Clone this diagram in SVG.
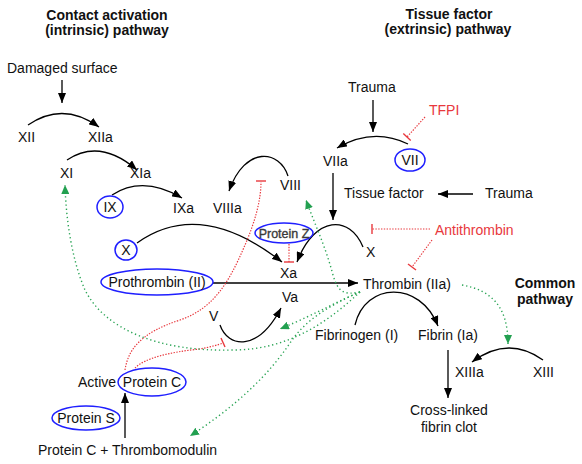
<svg xmlns="http://www.w3.org/2000/svg" width="582" height="464" viewBox="0 0 582 464">
<style>
text{font-family:"Liberation Sans",Arial,sans-serif;font-size:14px;fill:#111}
.t{font-weight:bold;text-anchor:middle}
.m{text-anchor:middle}
.r{fill:#e8383d}
.pz{font-size:12.5px;fill:#3a3a3a;stroke:#3a3a3a;stroke-width:0.35}
.e{fill:none;stroke:#1f1fff;stroke-width:1.5}
.k{fill:none;stroke:#000;stroke-width:1.3}
.ka{fill:none;stroke:#000;stroke-width:1.3;marker-end:url(#ah)}
.rd{fill:none;stroke:#e8383d;stroke-width:1.2;stroke-dasharray:1.4 1.4}
.rb{fill:none;stroke:#e8383d;stroke-width:1.4}
.gd{fill:none;stroke:#2aa455;stroke-width:1.4;stroke-dasharray:1.3 2.8;marker-end:url(#ga)}
</style>
<defs>
<marker id="ah" viewBox="0 0 10 8" refX="10" refY="4" markerWidth="10" markerHeight="8" markerUnits="userSpaceOnUse" orient="auto"><path d="M0,0 L10,4 L0,8 z" fill="#000"/></marker>
<marker id="ga" viewBox="0 0 9 8" refX="9" refY="4" markerWidth="9" markerHeight="8" markerUnits="userSpaceOnUse" orient="auto"><path d="M0,0 L9,4 L0,8 z" fill="#22a050"/></marker>
</defs>
<rect width="582" height="464" fill="#fff"/>

<g id="titles">
<text class="t" x="107" y="20">Contact activation</text>
<text class="t" x="107" y="35">(intrinsic) pathway</text>
<text class="t" x="449" y="19">Tissue factor</text>
<text class="t" x="448" y="34">(extrinsic) pathway</text>
<text class="t" x="545" y="288">Common</text>
<text class="t" x="545" y="304">pathway</text>
</g>

<g id="connectors">
<path class="ka" d="M62,80 V103"/>
<path class="ka" d="M28,125 Q63,101 99,127"/>
<path class="ka" d="M67,160 Q100,138 137,170"/>
<path class="ka" d="M112,195 Q143,175 182,198"/>
<path class="ka" d="M137,243 Q200,198 282,262"/>
<path class="ka" d="M363,247 C350,215 315,215 297,262"/>
<path class="ka" d="M288,176 C280,150 245,145 229,191"/>
<path class="ka" d="M213,283 H358"/>
<path class="ka" d="M373,100 V132"/>
<path class="ka" d="M408,144 Q373,127 337,148"/>
<path class="ka" d="M333,173 V220"/>
<path class="ka" d="M473,194 H438"/>
<path class="ka" d="M220,325 C228,348 258,352 281,308"/>
<path class="ka" d="M355,325 C365,282 420,280 438,326"/>
<path class="ka" d="M448,350 V398"/>
<path class="ka" d="M543,360 Q508,335 472,362"/>
<path class="ka" d="M125,438 V393"/>

<path class="rd" d="M425,117 L407,137"/><path class="rb" d="M403.3,133.6 L410.7,140.4"/>
<path class="rd" d="M430,229 H372"/><path class="rb" d="M372,224 V234"/>
<path class="rd" d="M432,240 L412,267"/><path class="rb" d="M408,264 L416,270"/>
<path class="rd" d="M289,244 V262"/><path class="rb" d="M284,262 H294"/>
<path class="rd" d="M125,370 C128,350 140,333 180,320 C215,308 230,280 245,245 C255,222 261,200 261,182"/><path class="rb" d="M256,181 H266"/>
<path class="rd" d="M135,368 C145,358 170,352 200,349 C210,347 218,345 223,343"/><path class="rb" d="M221,338 L225,347"/>

<path class="gd" d="M360,292 C330,320 290,350 233,350 C160,352 105,330 85,290 C72,260 66,220 65,185"/>
<path class="gd" d="M360,292 C345,295 338,293 333,275 C325,245 315,225 306,200"/>
<path class="gd" d="M360,292 C340,300 320,312 280,329"/>
<path class="gd" d="M360,292 C330,305 305,320 290,343 C265,380 230,410 190,436"/>
<path class="gd" d="M462,285 C490,290 508,305 508,344"/>
</g>

<g id="damaged-surface"><text x="7" y="73">Damaged surface</text></g>
<g id="XII"><text x="18" y="142">XII</text></g>
<g id="XIIa"><text x="88" y="142">XIIa</text></g>
<g id="XI"><text x="60" y="178">XI</text></g>
<g id="XIa"><text x="130" y="178">XIa</text></g>
<g id="IX"><ellipse class="e" cx="110" cy="207" rx="13" ry="11"/><text class="m" x="110" y="212">IX</text></g>
<g id="IXa"><text x="173" y="213">IXa</text></g>
<g id="X-left"><ellipse class="e" cx="126" cy="250" rx="11" ry="10"/><text class="m" x="126" y="255">X</text></g>
<g id="prothrombin"><ellipse class="e" cx="157" cy="282" rx="56" ry="13"/><text class="m" x="157" y="287">Prothrombin (II)</text></g>
<g id="VIII"><text x="280" y="190">VIII</text></g>
<g id="VIIIa"><text x="213" y="213">VIIIa</text></g>
<g id="protein-Z"><ellipse class="e" cx="284" cy="233" rx="29" ry="10"/><text class="m pz" x="284" y="237.5">Protein Z</text></g>
<g id="Xa"><text x="280" y="278">Xa</text></g>
<g id="Va"><text x="282" y="302">Va</text></g>
<g id="V"><text x="209" y="321">V</text></g>
<g id="trauma-top"><text x="348" y="92">Trauma</text></g>
<g id="TFPI"><text class="r" x="429" y="115">TFPI</text></g>
<g id="VII"><ellipse class="e" cx="410" cy="160" rx="15" ry="11"/><text class="m" x="410" y="165">VII</text></g>
<g id="VIIa"><text x="323" y="166">VIIa</text></g>
<g id="tissue-factor"><text x="344" y="198">Tissue factor</text></g>
<g id="trauma-mid"><text x="485" y="198">Trauma</text></g>
<g id="X-right"><text x="366" y="257">X</text></g>
<g id="antithrombin"><text class="r" x="435" y="235">Antithrombin</text></g>
<g id="thrombin"><text x="363" y="289">Thrombin (IIa)</text></g>
<g id="fibrinogen"><text x="315" y="340">Fibrinogen (I)</text></g>
<g id="fibrin"><text x="418" y="340">Fibrin (Ia)</text></g>
<g id="XIIIa"><text x="455" y="377">XIIIa</text></g>
<g id="XIII"><text x="533" y="377">XIII</text></g>
<g id="clot"><text class="m" x="449" y="415">Cross-linked</text><text class="m" x="449" y="432">fibrin clot</text></g>
<g id="active-protein-C"><text x="78" y="387">Active</text><ellipse class="e" cx="152" cy="382" rx="34" ry="14"/><text class="m" x="152" y="387">Protein C</text></g>
<g id="protein-S"><ellipse class="e" cx="86" cy="418" rx="34" ry="12"/><text class="m" x="86" y="423">Protein S</text></g>
<g id="protein-C-TM"><text x="38" y="455">Protein C + Thrombomodulin</text></g>
</svg>
